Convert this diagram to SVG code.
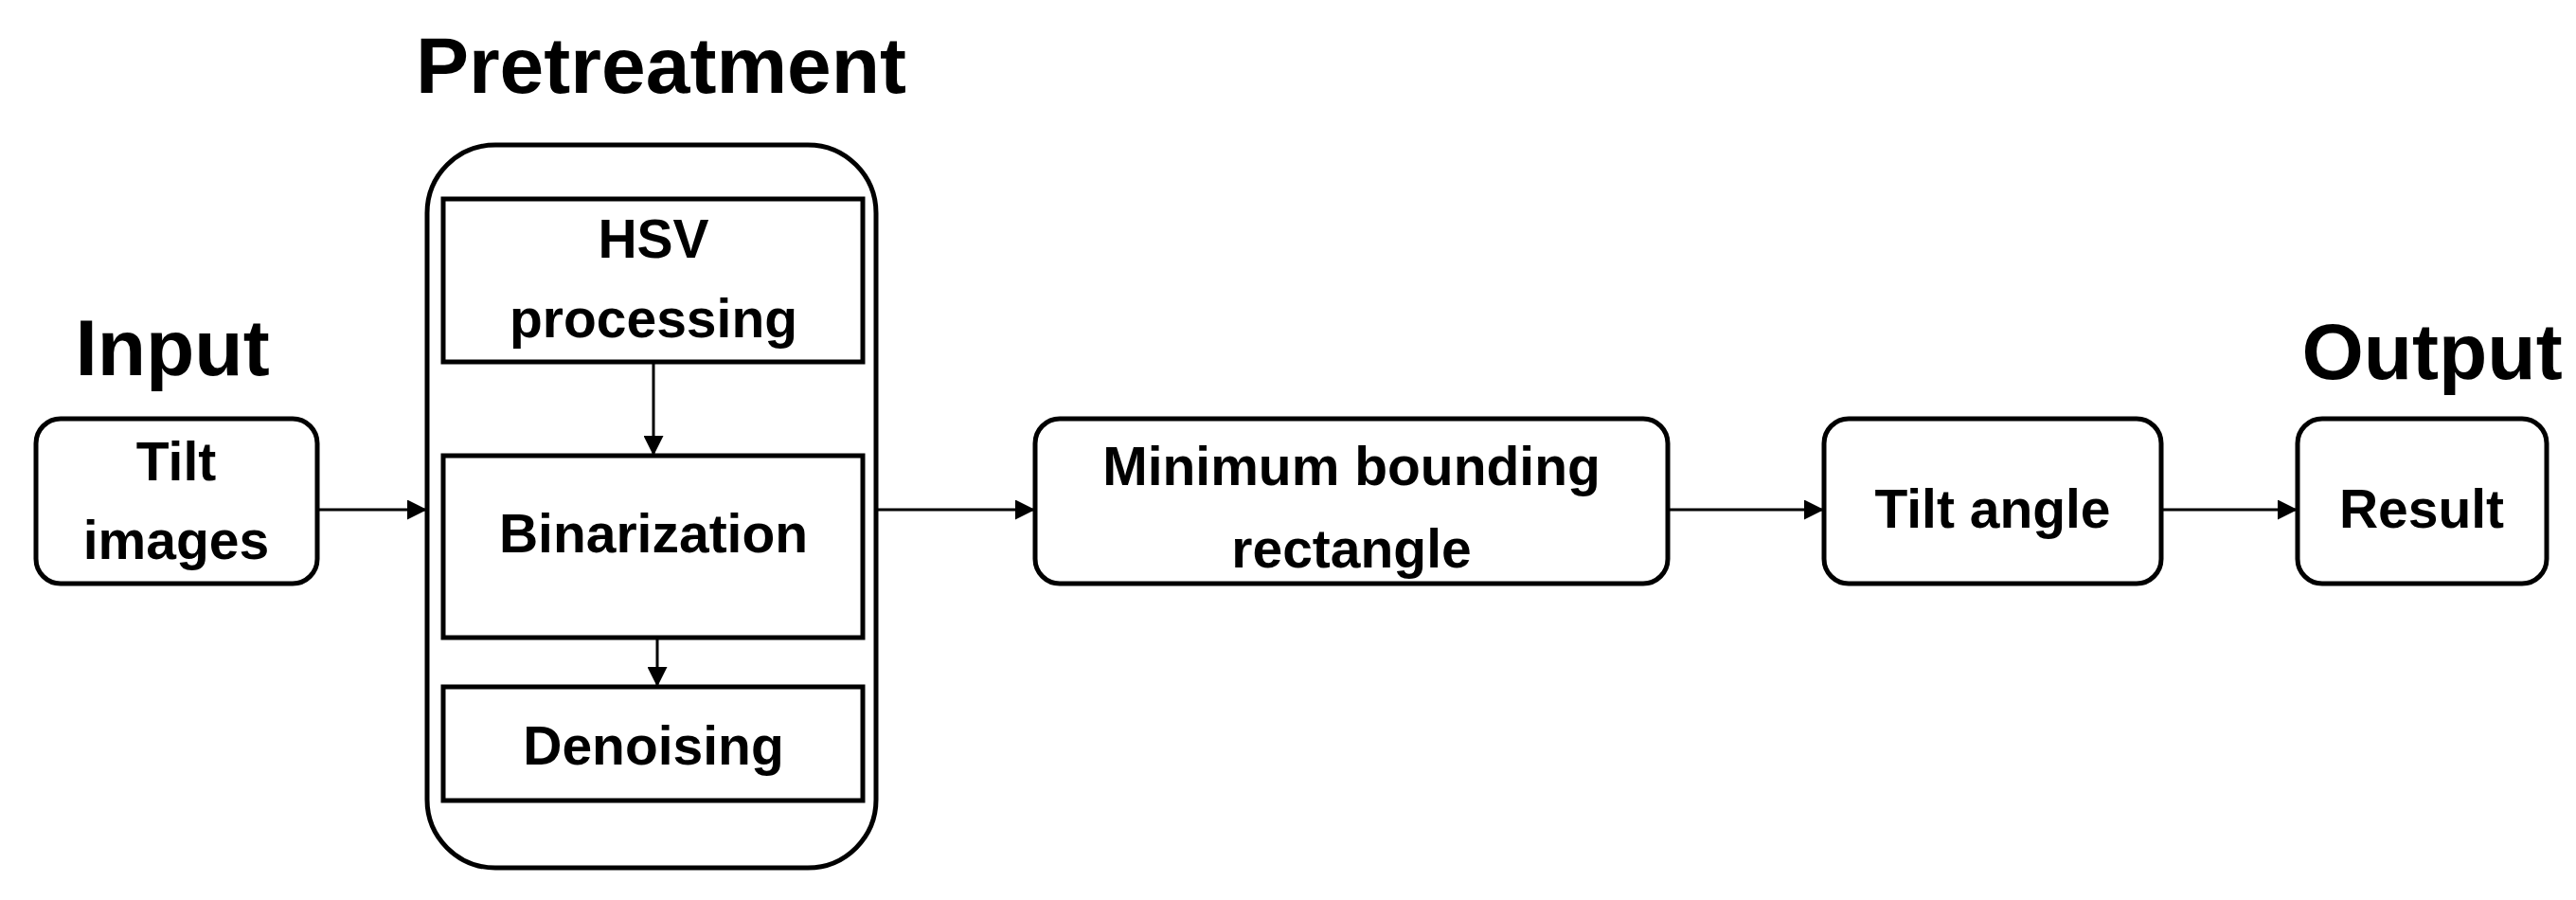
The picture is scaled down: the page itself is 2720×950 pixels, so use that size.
<svg xmlns="http://www.w3.org/2000/svg" width="2720" height="950" viewBox="0 0 2720 950">
<style>
.b{fill:#fff;stroke:#000;stroke-width:5}
.t{font-family:"Liberation Sans",Arial,sans-serif;font-weight:bold;font-size:57px;text-anchor:middle;fill:#000}
.h{font-family:"Liberation Sans",Arial,sans-serif;font-weight:bold;font-size:84px;text-anchor:middle;fill:#000}
.c{stroke:#000;stroke-width:3;fill:none;marker-end:url(#a)}
</style>
<defs><marker id="a" viewBox="0 0 10 10" refX="10" refY="5" markerWidth="7" markerHeight="7" orient="auto" markerUnits="strokeWidth"><path d="M0,0L10,5L0,10z" fill="#000"/></marker></defs>
<rect width="2720" height="950" fill="#fff"/>
<text class="h" x="182" y="396">Input</text>
<text class="h" x="698" y="98">Pretreatment</text>
<text class="h" x="2568" y="400">Output</text>
<g id="tilt-images"><rect class="b" x="38" y="442" width="297" height="174" rx="26"/><text class="t" x="186" y="507">Tilt</text><text class="t" x="186" y="590">images</text></g>
<g id="pretreatment"><rect class="b" x="451" y="153" width="474" height="763" rx="72"/></g>
<g id="hsv"><rect class="b" x="468" y="210" width="443" height="172"/><text class="t" x="690" y="272">HSV</text><text class="t" x="690" y="356">processing</text></g>
<g id="binarization"><rect class="b" x="468" y="481" width="443" height="192"/><text class="t" x="690" y="583">Binarization</text></g>
<g id="denoising"><rect class="b" x="468" y="725" width="443" height="120"/><text class="t" x="690" y="807">Denoising</text></g>
<g id="mbr"><rect class="b" x="1093" y="442" width="668" height="174" rx="26"/><text class="t" x="1427" y="512">Minimum bounding</text><text class="t" x="1427" y="599">rectangle</text></g>
<g id="tilt-angle"><rect class="b" x="1926" y="442" width="356" height="174" rx="26"/><text class="t" x="2104" y="557">Tilt angle</text></g>
<g id="result"><rect class="b" x="2426" y="442" width="263" height="174" rx="26"/><text class="t" x="2557" y="557">Result</text></g>
<g id="connectors">
<line class="c" x1="335" y1="538" x2="451" y2="538"/>
<line class="c" x1="690" y1="382" x2="690" y2="481"/>
<line class="c" x1="694" y1="673" x2="694" y2="725"/>
<line class="c" x1="925" y1="538" x2="1093" y2="538"/>
<line class="c" x1="1761" y1="538" x2="1926" y2="538"/>
<line class="c" x1="2282" y1="538" x2="2426" y2="538"/>
</g>
</svg>
